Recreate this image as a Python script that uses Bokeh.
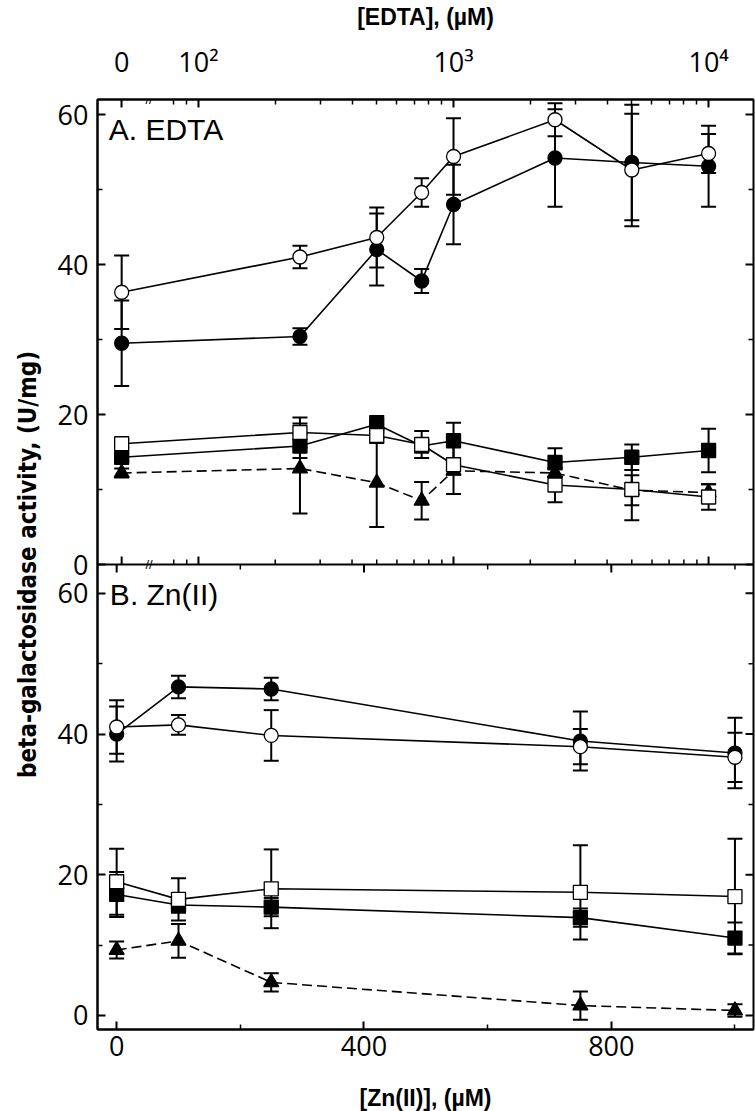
from math import pi
from bokeh.plotting import figure
from bokeh.models import (Range1d, FixedTicker, Whisker, TeeHead, ColumnDataSource, Label,
                          LogAxis, LogScale, Span)
from bokeh.embed import file_html
from bokeh.resources import INLINE

# ---------------- data ----------------
# Panel A: EDTA concentrations (uM); the 0 point sits left of the axis break
EDTA_UM = [0, 250, 500, 750, 1000, 2500, 5000, 10000]
EDTA_ZERO_AT = 50          # where "0" is placed on the broken log axis
EDTA_BREAK_AT = 64         # position of the axis-break mark

A_open_circle = [36.3, 41.0, 43.6, 49.6, 54.4, 59.3, 52.6, 54.8]
A_open_circle_err = [4.9, 1.5, 4.0, 1.9, 5.1, 2.2, 7.5, 2.6]
A_filled_circle = [29.5, 30.4, 42.0, 37.8, 48.0, 54.2, 53.6, 53.1]
A_filled_circle_err = [5.7, 1.1, 4.8, 1.6, 5.3, 6.5, 7.7, 5.4]
A_open_square = [16.1, 17.6, 17.2, 16.0, 13.3, 10.6, 10.0, 9.0]
A_open_square_err = [0.5, 2.0, 1.0, 1.8, 3.9, 2.3, 4.1, 1.7]
A_filled_square = [14.3, 15.8, 18.7, 15.8, 16.5, 13.6, 14.3, 15.2]
A_filled_square_err = [0.5, 1.6, 1.1, 0.5, 2.4, 1.9, 1.7, 2.9]
A_triangle = [12.2, 12.8, 10.9, 8.5, 12.5, 12.2, 9.9, 9.6]
A_triangle_err = [0.6, 6.0, 5.9, 2.5, 0.5, 0.5, 2.0, 1.1]

# Panel B: Zn(II) concentrations (uM)
ZN_UM = [0, 100, 250, 750, 1000]
B_filled_circle = [40.0, 46.7, 46.4, 39.0, 37.3]
B_filled_circle_err = [3.9, 1.6, 1.6, 4.2, 5.0]
B_open_circle = [41.0, 41.3, 39.8, 38.2, 36.7]
B_open_circle_err = [3.8, 1.4, 3.6, 2.5, 3.5]
B_open_square = [19.0, 16.5, 18.0, 17.5, 16.9]
B_open_square_err = [4.7, 3.0, 5.6, 6.7, 8.2]
B_filled_square = [17.2, 15.7, 15.4, 13.9, 11.0]
B_filled_square_err = [3.2, 1.1, 1.3, 1.3, 2.2]
B_triangle = [9.3, 10.6, 4.7, 1.4, 0.7]
B_triangle_err = [1.2, 2.4, 1.3, 2.0, 0.9]

# ticks
EDTA_MAJOR = [EDTA_ZERO_AT, 100, 1000, 10000]
EDTA_MAJOR_LABELS = ["0", "10\u00b2", "10\u00b3", "10\u2074"]
EDTA_MINOR = [80, 90, 200, 300, 400, 500, 600, 700, 800, 900,
              2000, 3000, 4000, 5000, 6000, 7000, 8000, 9000]
ZN_MAJOR = [0, 400, 800]
ZN_MINOR = [200, 600, 1000]
Y_MAJOR = [0, 20, 40, 60]
Y_MINOR = [10, 30, 50]

TITLE_A = "[EDTA], (\u00b5M)"
TITLE_B = "[Zn(II)], (\u00b5M)"
Y_TITLE = "beta-galactosidase activity, (U/mg)"

# ---------------- geometry ----------------
PANEL_W, PANEL_H = 656, 465          # each panel; the two panels are stacked
BORDER_L, BORDER_R = 97, 2
BORDER_TOP, BORDER_BOTTOM = 98, 82

A_XRANGE = (40.2, 15000)   # panel A (log)
A_YRANGE = (0, 62)
B_XRANGE = (-31, 1030)     # panel B (linear)
B_YRANGE = (-2, 64.1)

# one frame holds both panels: panel B fills the lower half of the main y range,
# panel A the upper half of an extra y range
FULL_Y = (B_YRANGE[0], B_YRANGE[1] + (B_YRANGE[1] - B_YRANGE[0]))
A_FULL_Y = (A_YRANGE[0] - (A_YRANGE[1] - A_YRANGE[0]), A_YRANGE[1])
SEAM = B_YRANGE[1]


def a_to_main(v):
    """Panel-A y value expressed in the main (panel B) y units."""
    return SEAM + (v - A_YRANGE[0]) / (A_YRANGE[1] - A_YRANGE[0]) * (B_YRANGE[1] - B_YRANGE[0])


TICK_FONT = "Open Sans"
TICK_SIZE = "27px"
MAJ_LEN, MIN_LEN = 8, 5

p = figure(output_backend="svg", toolbar_location=None,
           frame_width=PANEL_W, frame_height=2 * PANEL_H,
           min_border_left=BORDER_L, min_border_right=BORDER_R,
           min_border_top=BORDER_TOP, min_border_bottom=BORDER_BOTTOM,
           x_range=Range1d(*B_XRANGE), y_range=Range1d(*FULL_Y))
p.extra_x_ranges = {"edta": Range1d(*A_XRANGE)}
p.extra_x_scales = {"edta": LogScale()}
p.extra_y_ranges = {"a": Range1d(*A_FULL_Y)}
p.xgrid.visible = False
p.ygrid.visible = False
p.outline_line_color = "black"
p.outline_line_width = 2
p.background_fill_color = "white"
p.border_fill_color = "white"


def style_axis(ax, standoff=9):
    ax.axis_line_width = 2
    ax.axis_line_color = "black"
    ax.major_tick_in = MAJ_LEN
    ax.major_tick_out = 0
    ax.minor_tick_in = MIN_LEN
    ax.minor_tick_out = 0
    ax.major_tick_line_width = 2
    ax.minor_tick_line_width = 1.5
    ax.major_tick_line_color = "black"
    ax.minor_tick_line_color = "black"
    ax.major_label_text_font = TICK_FONT
    ax.major_label_text_font_size = TICK_SIZE
    ax.major_label_text_color = "black"
    ax.major_label_standoff = standoff


def title_style(ax, text, standoff, font="Liberation Sans", size="23px"):
    ax.axis_label = text
    ax.axis_label_text_font = font
    ax.axis_label_text_font_style = "bold"
    ax.axis_label_text_font_size = size
    ax.axis_label_text_color = "black"
    ax.axis_label_standoff = standoff


def edge_ticks(xs, ys, length, angle, width, **kw):
    """Inward tick marks on an unlabeled edge (right edge, seam)."""
    p.ray(x=xs, y=ys, length=length, length_units="screen", angle=angle,
          line_color="black", line_width=width, **kw)


# --- bottom x axis: Zn(II)
bx = p.xaxis[0]
bx.ticker = FixedTicker(ticks=ZN_MAJOR, minor_ticks=ZN_MINOR)
style_axis(bx, 6)
title_style(bx, TITLE_B, 26)

# --- top x axis: EDTA (broken log)
tx = LogAxis(x_range_name="edta",
             ticker=FixedTicker(ticks=EDTA_MAJOR, minor_ticks=EDTA_MINOR))
tx.major_label_overrides = {t: s for t, s in zip(EDTA_MAJOR, EDTA_MAJOR_LABELS)}
style_axis(tx, 20)
title_style(tx, TITLE_A, 10)
p.add_layout(tx, "above")

# --- left y axis: both panels' ticks, labelled with each panel's own values
y_major_pos = list(Y_MAJOR) + [a_to_main(v) for v in Y_MAJOR]
y_minor_pos = list(Y_MINOR) + [a_to_main(v) for v in Y_MINOR]
y_major_txt = [str(v) for v in Y_MAJOR] * 2
ly = p.yaxis[0]
ly.ticker = FixedTicker(ticks=y_major_pos, minor_ticks=y_minor_pos)
ly.major_label_overrides = {t: s for t, s in zip(y_major_pos, y_major_txt)}
style_axis(ly, 9)
title_style(ly, Y_TITLE, 13, font="Liberation Sans Narrow, DejaVu Sans Condensed", size="24px")

# --- seam between the panels, with inward ticks of both x axes
p.add_layout(Span(location=SEAM, dimension="width", line_color="black", line_width=2))
edge_ticks(EDTA_MAJOR, [A_YRANGE[0]] * len(EDTA_MAJOR), MAJ_LEN, pi / 2, 2,
           x_range_name="edta", y_range_name="a")
edge_ticks(EDTA_MINOR, [A_YRANGE[0]] * len(EDTA_MINOR), MIN_LEN, pi / 2, 1.5,
           x_range_name="edta", y_range_name="a")
edge_ticks(ZN_MAJOR, [SEAM] * len(ZN_MAJOR), MAJ_LEN, -pi / 2, 2)
edge_ticks(ZN_MINOR, [SEAM] * len(ZN_MINOR), MIN_LEN, -pi / 2, 1.5)

# --- right edge ticks
edge_ticks([B_XRANGE[1]] * len(y_major_pos), y_major_pos, MAJ_LEN, pi, 2)
edge_ticks([B_XRANGE[1]] * len(y_minor_pos), y_minor_pos, MIN_LEN, pi, 1.5)


def draw_series(x, y, err, marker, fill, dash, size, **rng):
    src = ColumnDataSource(dict(
        x=x, y=y,
        lo=[v - e for v, e in zip(y, err)],
        hi=[v + e for v, e in zip(y, err)],
    ))
    p.line("x", "y", source=src, line_color="black", line_width=1.6, line_dash=dash, **rng)
    w = Whisker(base="x", upper="hi", lower="lo", source=src, dimension="height",
                level="underlay", line_color="black", line_width=2,
                upper_head=TeeHead(size=15, line_width=2, line_color="black"),
                lower_head=TeeHead(size=15, line_width=2, line_color="black"), **rng)
    p.add_layout(w)
    p.scatter("x", "y", source=src, marker=marker, size=size, fill_color=fill,
              line_color="black", line_width=1.3, **rng)


# ---------------- panel A ----------------
A = dict(x_range_name="edta", y_range_name="a")
x_edta = [EDTA_ZERO_AT if c == 0 else c for c in EDTA_UM]
draw_series(x_edta, A_triangle, A_triangle_err, "triangle", "black", "10 5", 15, **A)
draw_series(x_edta, A_filled_square, A_filled_square_err, "square", "black", "solid", 14, **A)
draw_series(x_edta, A_open_square, A_open_square_err, "square", "white", "solid", 14, **A)
draw_series(x_edta, A_filled_circle, A_filled_circle_err, "circle", "black", "solid", 14, **A)
draw_series(x_edta, A_open_circle, A_open_circle_err, "circle", "white", "solid", 14, **A)

p.add_layout(Label(x=44.5, y=58.0, text="A. EDTA", text_font="Liberation Sans",
                   text_font_size="30px", text_baseline="alphabetic", text_color="black", **A))
for yb in A_YRANGE:
    p.add_layout(Label(x=EDTA_BREAK_AT, y=yb, text="//", text_font="Liberation Sans",
                       text_font_size="13px", text_align="center",
                       text_baseline="middle", text_color="black", **A))

# ---------------- panel B ----------------
draw_series(ZN_UM, B_triangle, B_triangle_err, "triangle", "black", "10 5", 15)
draw_series(ZN_UM, B_filled_square, B_filled_square_err, "square", "black", "solid", 14)
draw_series(ZN_UM, B_open_square, B_open_square_err, "square", "white", "solid", 14)
draw_series(ZN_UM, B_filled_circle, B_filled_circle_err, "circle", "black", "solid", 14)
draw_series(ZN_UM, B_open_circle, B_open_circle_err, "circle", "white", "solid", 14)

p.add_layout(Label(x=-11, y=59.8, text="B. Zn(II)", text_font="Liberation Sans",
                   text_font_size="30px", text_baseline="alphabetic", text_color="black"))

open("out.html", "w").write(file_html(p, INLINE))
